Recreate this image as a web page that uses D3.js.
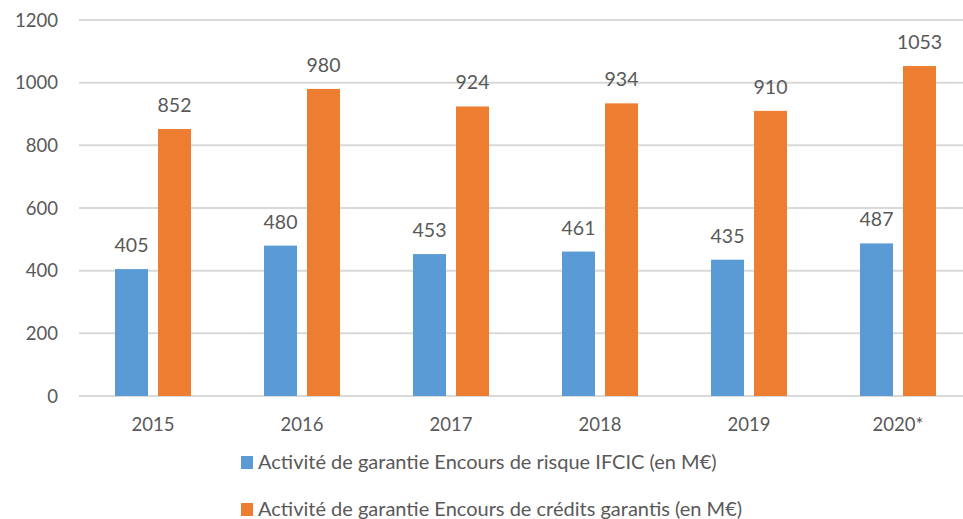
<!DOCTYPE html>
<html><head><meta charset="utf-8">
<script src="https://cdn.jsdelivr.net/npm/d3@7/dist/d3.min.js"></script>
<style>body{margin:0;background:#fff}svg{display:block}text{font-family:Lato,"Open Sans",sans-serif;fill:#595959}</style>
</head><body><svg id="c" width="963" height="519"></svg>
<script>
const categories = ["2015","2016","2017","2018","2019","2020*"];
const risque = [405,480,453,461,435,487];
const credits = [852,980,924,934,910,1053];
const yTicks = [0,200,400,600,800,1000,1200];
const seriesNames = ["Activité de garantie Encours de risque IFCIC (en M€)","Activité de garantie Encours de crédits garantis (en M€)"];
const colors = ["#5B9BD5","#ED7D31"];

const svg = d3.select("#c");
const x = d3.scaleBand().domain(categories).range([78.5, 972.5]);
const y = d3.scaleLinear().domain([0,1200]).range([396,20]);

svg.append("g").selectAll("line").data(yTicks).join("line")
  .attr("x1",79).attr("x2",963).attr("y1",d=>y(d)).attr("y2",d=>y(d))
  .attr("stroke","#D9D9D9").attr("stroke-width",2);
svg.append("g").selectAll("text").data(yTicks).join("text")
  .attr("x",58).attr("y",d=>y(d)+6.5).attr("text-anchor","end")
  .attr("font-size",18.5).text(d=>d);

const bw = 33;
const series = [risque, credits];
const offs = [-38, 5];
series.forEach((vals,si)=>{
  const g = svg.append("g");
  g.selectAll("rect").data(vals).join("rect")
    .attr("x",(d,i)=>x(categories[i])+x.bandwidth()/2+offs[si])
    .attr("width",bw)
    .attr("y",d=>y(d)).attr("height",d=>y(0)-y(d))
    .attr("fill",colors[si]);
  g.selectAll("text").data(vals).join("text")
    .attr("x",(d,i)=>x(categories[i])+x.bandwidth()/2+offs[si]+bw/2)
    .attr("y",d=>y(d)-17).attr("text-anchor","middle")
    .attr("font-size",19.5).text(d=>d);
});

svg.append("g").selectAll("text").data(categories).join("text")
  .attr("x",d=>x(d)+x.bandwidth()/2).attr("y",431).attr("text-anchor","middle")
  .attr("font-size",18.5).text(d=>d);

const leg = svg.append("g");
seriesNames.forEach((n,i)=>{
  const yy = 456 + i*47;
  leg.append("rect").attr("x",241).attr("y",yy).attr("width",12).attr("height",13).attr("fill",colors[i]);
  leg.append("text").attr("x",258).attr("y",yy+13).attr("font-size",20).text(n);
});
</script></body></html>
